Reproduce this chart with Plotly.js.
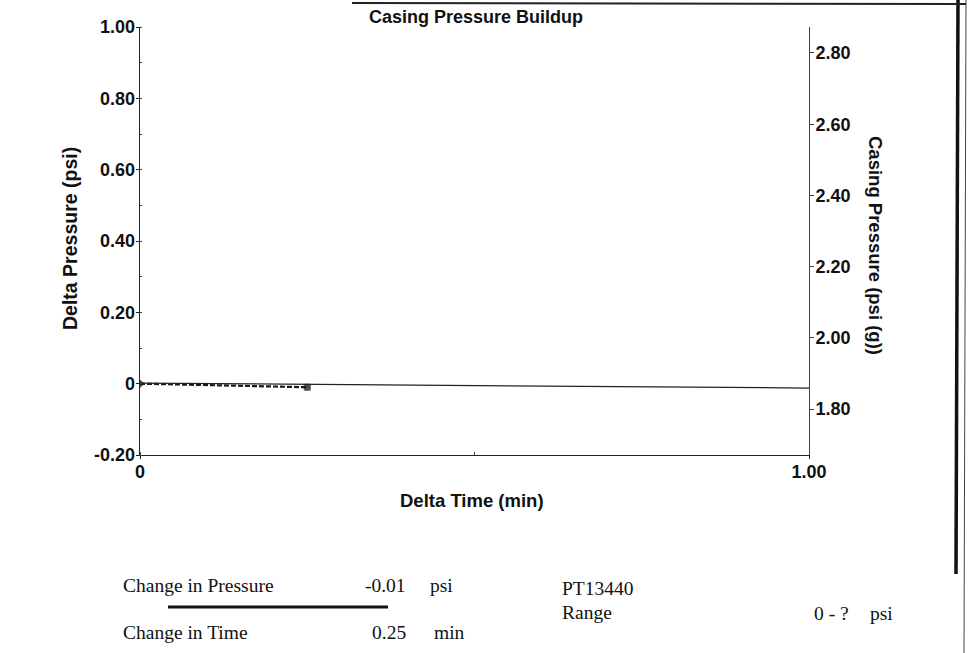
<!DOCTYPE html>
<html>
<head>
<meta charset="utf-8">
<script src="https://cdn.plot.ly/plotly-3.0.1.min.js"></script>
<style>html,body{margin:0;padding:0;background:#fff;}#chart{width:973px;height:653px;}</style>
</head>
<body>
<div id="chart"></div>
<script>
// ---- data ----
const deltaTime = [0, 0.25];
const deltaPressure = [0, -0.01];
const casingTime = [0, 1];
const casingPressure = [1.873, 1.859];

const leftTickVals = [-0.2, 0, 0.2, 0.4, 0.6, 0.8, 1.0];
const leftTickText = ["-0.20", "0", "0.20", "0.40", "0.60", "0.80", "1.00"];
const rightTickVals = [1.8, 2.0, 2.2, 2.4, 2.6, 2.8];
const rightTickText = ["1.80", "2.00", "2.20", "2.40", "2.60", "2.80"];
const xTickVals = [0, 1];
const xTickText = ["0", "1.00"];

const changeInPressure = "-0.01";
const changeInTime = "0.25";
const instrument = "PT13440";
const rangeText = "0 - ?";

// ---- layout helpers (pixel -> paper) ----
const L = 140, R = 809, T = 27, B = 455;
const W = 973, H = 653;
const px = x => (x - L) / (R - L);
const py = y => (B - y) / (B - T);

const sans = "Liberation Sans, Arial, sans-serif";
const serif = "Liberation Serif, Times New Roman, serif";

const traces = [
  {
    x: casingTime, y: casingPressure, yaxis: 'y2', type: 'scatter', mode: 'lines',
    line: {color: '#222', width: 1.3}, hoverinfo: 'skip', showlegend: false
  },
  {
    x: deltaTime, y: deltaPressure, type: 'scatter', mode: 'lines+markers',
    line: {color: '#1a1a1a', width: 2.2, dash: '5px,2px'},
    marker: {symbol: ['diamond', 'square'], size: [6, 6], color: '#000'},
    showlegend: false
  }
];

function txt(x, y, text, opts) {
  return Object.assign({
    xref: 'paper', yref: 'paper', x: px(x), y: py(y), text: text,
    showarrow: false, xanchor: 'left', yanchor: 'middle',
    font: {family: serif, size: 19.5, color: '#111'}
  }, opts || {});
}

const annotations = [
  txt(476, 17, "<b>Casing Pressure Buildup</b>", {xanchor: 'center', font: {family: sans, size: 18, color: '#111'}}),
  txt(472, 500, "<b>Delta Time (min)</b>", {xanchor: 'center', font: {family: sans, size: 18.5, color: '#111'}}),
  txt(70, 239, "<b>Delta Pressure (psi)</b>", {xanchor: 'center', textangle: -90, font: {family: sans, size: 19.5, color: '#111'}}),
  txt(876, 245, "<b>Casing Pressure (psi (g))</b>", {xanchor: 'center', textangle: 90, font: {family: sans, size: 18.5, color: '#111'}}),
  txt(121, 585, "Change in Pressure"),
  txt(408, 585, changeInPressure, {xanchor: 'right'}),
  txt(428, 585, "psi"),
  txt(121, 632, "Change in Time"),
  txt(408, 632, changeInTime, {xanchor: 'right'}),
  txt(432, 632, "min"),
  txt(560, 588, instrument),
  txt(560, 612, "Range"),
  txt(812, 613, rangeText),
  txt(868, 613, "psi")
];

const shapes = [
  {type: 'line', xref: 'paper', yref: 'paper', x0: px(168), x1: px(388), y0: py(607), y1: py(607), line: {color: '#111', width: 3}},
  {type: 'line', xref: 'paper', yref: 'paper', x0: px(958), x1: px(956), y0: py(0), y1: py(574), line: {color: '#111', width: 3.5}},
  {type: 'line', xref: 'paper', yref: 'paper', x0: px(966), x1: px(964), y0: py(0), y1: py(653), line: {color: '#444', width: 1}},
  {type: 'line', xref: 'paper', yref: 'paper', x0: px(352), x1: px(966), y0: py(3), y1: py(4), line: {color: '#222', width: 2}}
];

const tickFont = {family: sans, size: 18, color: '#111', weight: 'bold'};

const layout = {
  width: W, height: H,
  margin: {l: L, r: W - R, t: T, b: H - B, pad: 0},
  paper_bgcolor: '#fff', plot_bgcolor: '#fff',
  showlegend: false,
  xaxis: {
    range: [0, 1], tickvals: xTickVals, ticktext: xTickText,
    showgrid: false, zeroline: false, showline: true, linecolor: '#222', linewidth: 1.3,
    ticks: 'outside', ticklen: 3, tickcolor: '#222', ticklabelstandoff: -3,
    minor: {dtick: 0.5, ticks: 'inside', ticklen: 3, tickcolor: '#444', showgrid: false},
    tickfont: tickFont
  },
  yaxis: {
    range: [-0.2, 1.0], tickvals: leftTickVals, ticktext: leftTickText,
    showgrid: false, zeroline: false, showline: true, linecolor: '#222', linewidth: 1.3,
    ticks: 'outside', ticklen: 3, tickcolor: '#222', ticklabelstandoff: -3,
    minor: {dtick: 0.1, ticks: 'inside', ticklen: 2, tickcolor: '#444', showgrid: false},
    tickfont: tickFont
  },
  yaxis2: {
    overlaying: 'y', side: 'right', range: [1.671, 2.873],
    tickvals: rightTickVals, ticktext: rightTickText,
    showgrid: false, zeroline: false, showline: true, linecolor: '#444', linewidth: 1,
    ticks: 'outside', ticklen: 4, tickcolor: '#444', ticklabelstandoff: -2,
    tickfont: tickFont
  },
  annotations: annotations,
  shapes: shapes
};

Plotly.newPlot('chart', traces, layout, {displayModeBar: false, staticPlot: true});
</script>
</body>
</html>
